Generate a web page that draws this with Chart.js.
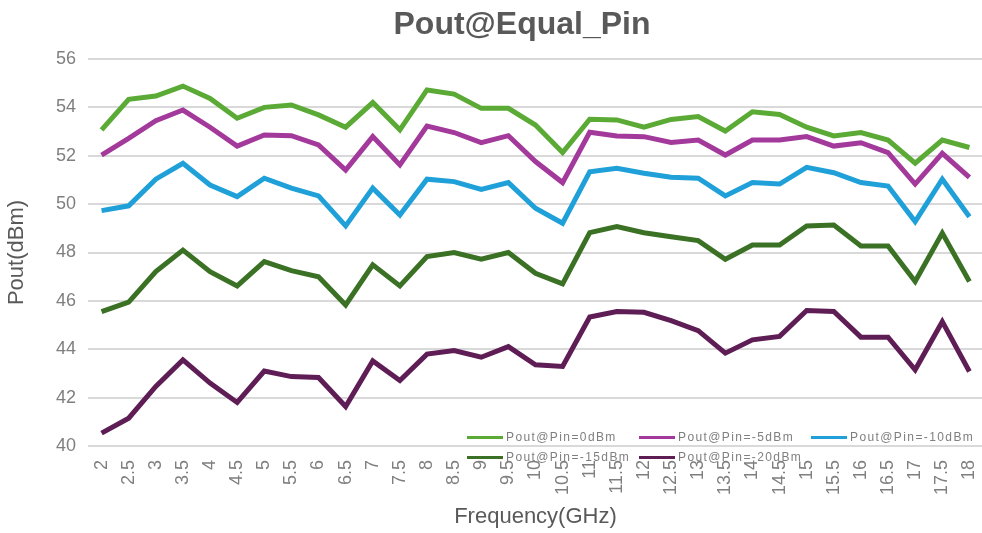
<!DOCTYPE html>
<html>
<head>
<meta charset="utf-8">
<script src="https://cdn.jsdelivr.net/npm/chart.js@4.4.0/dist/chart.umd.min.js"></script>
<style>
  html, body { margin: 0; padding: 0; background: #fff; overflow: hidden; }
  #wrap { position: relative; width: 982px; height: 533px; overflow: hidden; }
  #title {
    position: absolute; left: 0; top: 5px; width: 1044px; text-align: center;
    font: bold 32px "Liberation Sans", Arial, sans-serif; color: #595959;
  }
  #legend { position: absolute; left: 467px; top: 428px; width: 515px; }
  .item {
    position: absolute; display: flex; align-items: center; height: 18px; white-space: nowrap;
    font: 12px "Liberation Sans", Arial, sans-serif; letter-spacing: 1.4px; color: #7f7f7f;
  }
  .item span.sw { display: inline-block; width: 36px; height: 3px; margin-right: 3px; }
</style>
</head>
<body>
<div id="wrap">
  <canvas id="c" width="997" height="533"></canvas>
  <div id="title">Pout@Equal_Pin</div>
  <div id="legend"></div>
</div>
<script>
// frequency points (GHz)
const freqs = ['2','2.5','3','3.5','4','4.5','5','5.5','6','6.5','7','7.5','8','8.5','9','9.5','10','10.5',
  '11','11.5','12','12.5','13','13.5','14','14.5','15','15.5','16','16.5','17','17.5','18'];

// output power (dBm) per input power
const pin0 = [53.07,54.33,54.47,54.88,54.37,53.55,54.0,54.1,53.69,53.18,
  54.2,53.07,54.72,54.55,53.96,53.96,53.27,52.13,53.51,53.48,
  53.18,53.5,53.62,53.02,53.82,53.71,53.18,52.82,52.96,52.65,
  51.69,52.65,52.34];
const pinM5 = [52.03,52.72,53.45,53.89,53.18,52.4,52.86,52.83,52.45,51.41,
  52.79,51.62,53.23,52.96,52.54,52.83,51.76,50.89,52.97,52.82,
  52.79,52.55,52.65,52.03,52.65,52.65,52.79,52.4,52.54,52.13,
  50.83,52.1,51.11];
const pinM10 = [49.73,49.93,51.03,51.69,50.79,50.31,51.07,50.66,50.34,49.1,
  50.66,49.55,51.03,50.93,50.61,50.89,49.83,49.21,51.34,51.48,
  51.28,51.11,51.07,50.34,50.89,50.83,51.52,51.3,50.89,50.75,
  49.28,51.03,49.48];
const pinM15 = [45.56,45.95,47.21,48.1,47.21,46.62,47.62,47.25,47.0,45.83,
  47.49,46.62,47.83,48.0,47.72,48.0,47.14,46.7,48.82,49.07,
  48.82,48.65,48.49,47.72,48.31,48.31,49.1,49.14,48.27,48.27,
  46.8,48.8,46.8];
const pinM20 = [40.53,41.15,42.46,43.56,42.6,41.8,43.1,42.87,42.83,41.63,
  43.52,42.71,43.8,43.95,43.67,44.11,43.36,43.29,45.33,45.56,
  45.53,45.18,44.77,43.84,44.39,44.53,45.6,45.56,44.5,44.5,
  43.15,45.14,43.08];

const seriesNames = ['Pout@Pin=0dBm','Pout@Pin=-5dBm','Pout@Pin=-10dBm','Pout@Pin=-15dBm','Pout@Pin=-20dBm'];
const seriesData = [pin0, pinM5, pinM10, pinM15, pinM20];
const colors = ['#5aaa35', '#a2399b', '#1fa0d8', '#3a7124', '#5e1d55'];

const grayTxt = '#7f7f7f';
const fontFam = '"Liberation Sans", Arial, sans-serif';

const chart = new Chart(document.getElementById('c'), {
  type: 'line',
  data: {
    labels: freqs,
    datasets: seriesData.map((d, i) => ({
      label: seriesNames[i],
      data: d,
      borderColor: colors[i],
      backgroundColor: colors[i],
      borderWidth: 5,
      pointRadius: 0,
      tension: 0,
      fill: false
    }))
  },
  options: {
    responsive: false,
    animation: false,
    layout: { padding: { top: 59, right: 0, bottom: 0, left: 0 } },
    plugins: { legend: { display: false }, title: { display: false }, tooltip: { enabled: false } },
    scales: {
      x: {
        offset: true,
        grid: { display: false },
        border: { display: false },
        ticks: {
          color: grayTxt, autoSkip: false, minRotation: 90, maxRotation: 90, padding: 6,
          font: { family: fontFam, size: 18 }
        },
        title: {
          display: true, text: 'Frequency(GHz)', color: '#595959',
          font: { family: fontFam, size: 22 },
          padding: { top: 4, bottom: 3 }
        },
        afterFit: s => { s.height = 87; }
      },
      y: {
        min: 40, max: 56,
        ticks: {
          stepSize: 2, color: grayTxt, padding: 12,
          font: { family: fontFam, size: 18 }
        },
        grid: { color: '#d9d9d9', lineWidth: 2, drawTicks: false },
        border: { display: false },
        title: {
          display: true, text: 'Pout(dBm)', color: '#595959',
          font: { family: fontFam, size: 22 },
          padding: { top: 4, bottom: 4 }
        },
        afterFit: s => { s.width = 88; }
      }
    }
  }
});

// legend, two rows of three columns, built from the chart's datasets
const legendEl = document.getElementById('legend');
chart.data.datasets.forEach((ds, i) => {
  const el = document.createElement('div');
  el.className = 'item';
  el.style.left = (i % 3) * 172 + 'px';
  el.style.top = Math.floor(i / 3) * 20 + 'px';
  el.innerHTML = '<span class="sw" style="background:' + ds.borderColor + '"></span>' + ds.label;
  legendEl.appendChild(el);
});
</script>
</body>
</html>
